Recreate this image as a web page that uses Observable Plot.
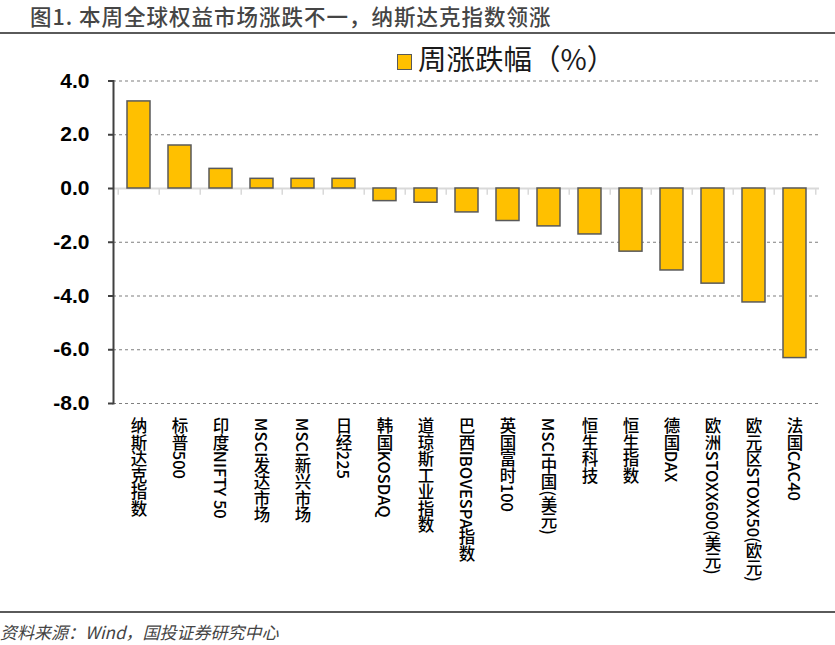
<!DOCTYPE html>
<html>
<head>
<meta charset="utf-8">
<script src="https://cdn.jsdelivr.net/npm/d3@7"></script>
<script src="https://cdn.jsdelivr.net/npm/@observablehq/plot@0.6"></script>
<style>
  html, body { margin: 0; padding: 0; background: #fff; }
  body { width: 835px; height: 645px; position: relative; overflow: hidden; font-family: "Noto Sans CJK SC", "Liberation Sans", sans-serif; }
  #title { position: absolute; left: 0; top: 0; width: 835px; height: 32px; border-bottom: 2px solid #5a5a5a; }
  #title span { position: absolute; left: 30px; top: 3px; font-size: 21.5px; line-height: 26px; color: #454545; letter-spacing: 1px; white-space: nowrap; font-weight: 500; }
  #legend { position: absolute; left: 397px; top: 40px; height: 36px; white-space: nowrap; }
  #legend .sw { position: absolute; left: 0; top: 14px; width: 13px; height: 14px; background: #FFC000; border: 1px solid #595959; }
  #legend .lt { position: absolute; left: 21px; top: 0px; font-size: 28.5px; line-height: 36px; color: #1a1a1a; }
  #chart { position: absolute; left: 0; top: 40px; }
  #foot { position: absolute; left: 0; top: 611px; width: 835px; border-top: 2px solid #5a5a5a; }
  #foot span { position: absolute; left: 0; top: 8px; font-size: 17px; line-height: 22px; font-style: italic; color: #444; white-space: nowrap; }
  .vlab text { writing-mode: vertical-rl; text-orientation: mixed; }
</style>
</head>
<body>
<div id="title"><span>图1. 本周全球权益市场涨跌不一，纳斯达克指数领涨</span></div>
<div id="legend"><div class="sw"></div><div class="lt">周涨跌幅（%）</div></div>
<div id="chart"></div>
<div id="foot"><span>资料来源：Wind，国投证券研究中心</span></div>
<script>
const categories = ["纳斯达克指数", "标普500", "印度NIFTY 50", "MSCI发达市场", "MSCI新兴市场", "日经225", "韩国KOSDAQ", "道琼斯工业指数", "巴西IBOVESPA指数", "英国富时100", "MSCI中国(美元)", "恒生科技", "恒生指数", "德国DAX", "欧洲STOXX600(美元)", "欧元区STOXX50(欧元)", "法国CAC40"];
const weeklyChange = [3.24, 1.6, 0.73, 0.36, 0.36, 0.36, -0.47, -0.53, -0.89, -1.21, -1.41, -1.71, -2.35, -3.05, -3.54, -4.24, -6.31];
const yTicks = [4, 2, 0, -2, -4, -6, -8];
const gridTicks = [4, 2, -2, -4, -6, -8];

const data = categories.map((name, i) => ({name, value: weeklyChange[i]}));

const W = 835, H = 570;
const mL = 113, mR = 16, mT = 40.5, mB = 207;
const halfStep = (W - mL - mR) / categories.length / 2;
const fmt = v => (v < 0 ? "-" : "") + Math.abs(v).toFixed(1);

const chart = Plot.plot({
  width: W,
  height: H,
  marginLeft: mL,
  marginRight: mR,
  marginTop: mT,
  marginBottom: mB,
  style: {background: "transparent", overflow: "visible"},
  x: {domain: categories, paddingInner: 0.44, paddingOuter: 0.22, axis: null},
  y: {domain: [-8, 4], axis: null},
  marks: [
    Plot.ruleY(gridTicks, {stroke: "#7f7f7f", strokeWidth: 1.2, strokeDasharray: "3,3"}),
    Plot.ruleY([0], {stroke: "#d9d9d9", strokeWidth: 2}),
    Plot.ruleX(categories, {x: d => d, y1: 0, y2: -0.25, dx: -halfStep, stroke: "#d9d9d9", strokeWidth: 1.5}),
    Plot.ruleX([categories[categories.length - 1]], {x: d => d, y1: 0, y2: -0.25, dx: halfStep, stroke: "#d9d9d9", strokeWidth: 1.5}),
    Plot.barY(data, {x: "name", y: "value", fill: "#FFC000", stroke: "#595959", strokeWidth: 1.5}),
    Plot.frame({anchor: "left", stroke: "#404040", strokeWidth: 2}),
    Plot.axisY({ticks: yTicks, label: null, tickSize: 5, tickPadding: 19, tickFormat: fmt, fontSize: 21, fontWeight: "bold", fontFamily: "Liberation Sans, Arial, sans-serif", stroke: "#404040", strokeWidth: 2, color: "#000"}),
    Plot.text(data, {x: "name", text: "name", frameAnchor: "bottom", dy: 9, textAnchor: "start", lineAnchor: "middle", fontSize: 16.5, fill: "#000", fontFamily: "Noto Sans CJK SC, sans-serif", fontWeight: 500, className: "vlab"})
  ]
});
document.getElementById("chart").appendChild(chart);
</script>
</body>
</html>
